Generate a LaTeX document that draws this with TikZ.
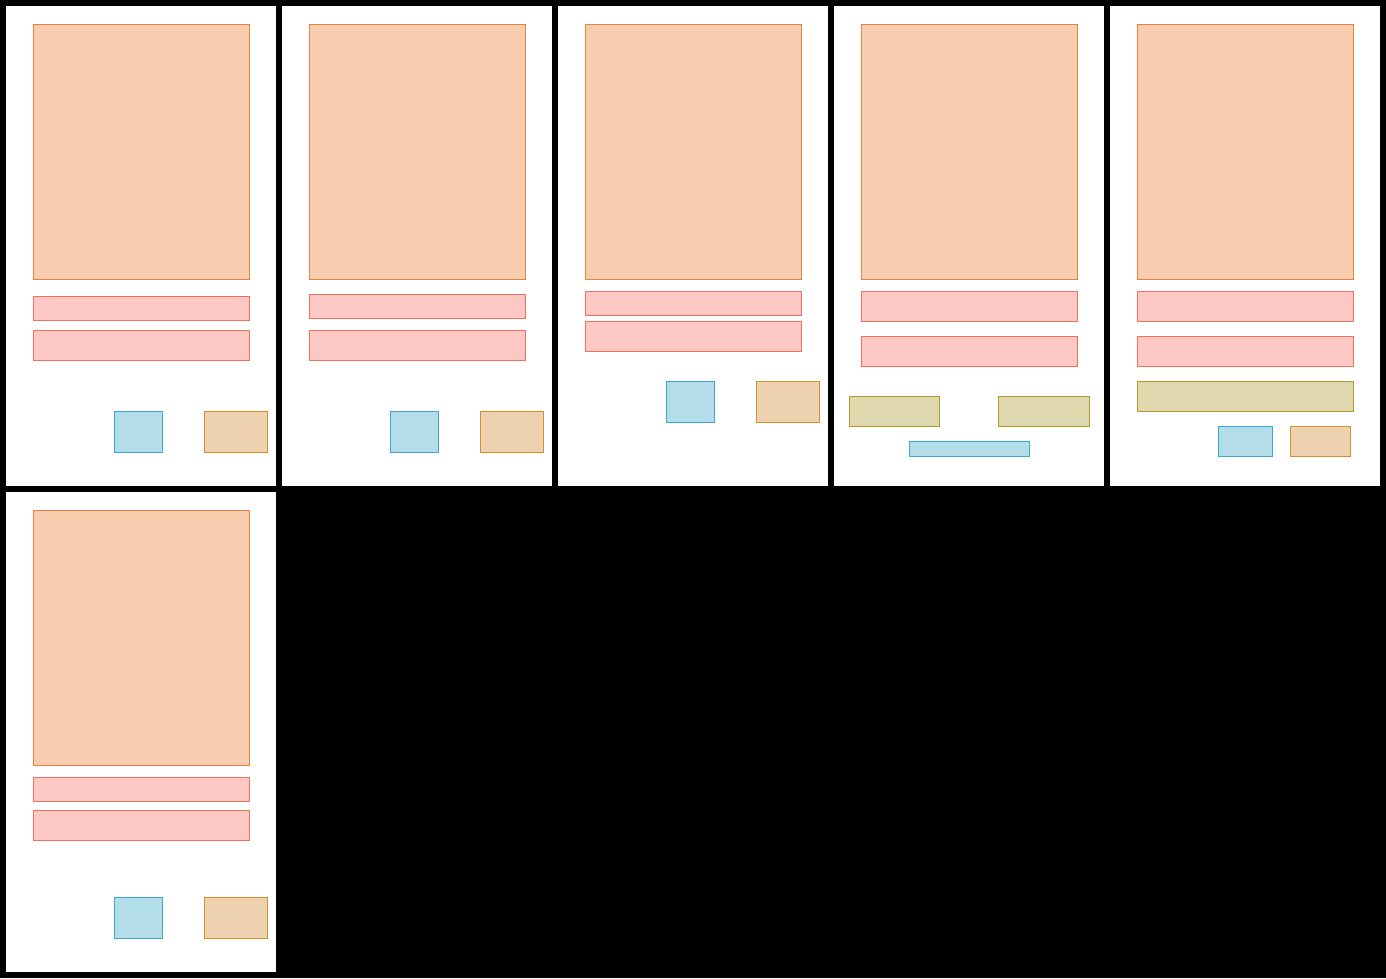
\documentclass[tikz,border=0pt]{standalone}
\usepackage{xcolor}
\definecolor{mainfill}{HTML}{F8CDAF}
\definecolor{maindraw}{HTML}{E8823A}
\definecolor{barfill}{HTML}{FDC8C3}
\definecolor{bardraw}{HTML}{F07060}
\definecolor{btnfill}{HTML}{B3DDE9}
\definecolor{btndraw}{HTML}{3AAAD0}
\definecolor{tanfill}{HTML}{EED2B0}
\definecolor{tandraw}{HTML}{D8902F}
\definecolor{olvfill}{HTML}{E0D9B0}
\definecolor{olvdraw}{HTML}{B09C2A}
\tikzset{
  panel/.style={fill=white},
  mainbox/.style={fill=mainfill, draw=maindraw, line width=0.8pt},
  bar/.style={fill=barfill, draw=bardraw, line width=0.8pt},
  btn/.style={fill=btnfill, draw=btndraw, line width=0.8pt},
  tanbox/.style={fill=tanfill, draw=tandraw, line width=0.8pt},
  olvbox/.style={fill=olvfill, draw=olvdraw, line width=0.8pt}
}
\begin{document}
\begin{tikzpicture}[x=1pt, y=-1pt]
    \fill[black] (0,0) rectangle (1386,978);
    \useasboundingbox (0,0) rectangle (1386,978);

    % panels
    \foreach \px in {6,282,558,834,1110}
      \fill[panel] (\px,6) rectangle ++(270,480);
    \fill[panel] (6,492) rectangle ++(270,480);

    % panel 1
    \draw[mainbox] (33.3,24.3) rectangle (249.7,279.3);
    \draw[bar] (33.3,296.3) rectangle (249.7,320.3);
    \draw[bar] (33.3,330.3) rectangle (249.7,360.3);
    \draw[btn] (114.3,411.3) rectangle (162.7,452.3);
    \draw[tanbox] (204.3,411.3) rectangle (267.7,452.3);

    % panel 2
    \draw[mainbox] (309.3,24.3) rectangle (525.7,279.3);
    \draw[bar] (309.3,294.3) rectangle (525.7,318.3);
    \draw[bar] (309.3,330.3) rectangle (525.7,360.3);
    \draw[btn] (390.3,411.3) rectangle (438.7,452.3);
    \draw[tanbox] (480.3,411.3) rectangle (543.7,452.3);

    % panel 3
    \draw[mainbox] (585.3,24.3) rectangle (801.7,279.3);
    \draw[bar] (585.3,291.3) rectangle (801.7,315.3);
    \draw[bar] (585.3,321.3) rectangle (801.7,351.3);
    \draw[btn] (666.3,381.3) rectangle (714.7,422.3);
    \draw[tanbox] (756.3,381.3) rectangle (819.7,422.3);

    % panel 4
    \draw[mainbox] (861.3,24.3) rectangle (1077.7,279.3);
    \draw[bar] (861.3,291.3) rectangle (1077.7,321.3);
    \draw[bar] (861.3,336.3) rectangle (1077.7,366.3);
    \draw[olvbox] (849.3,396.3) rectangle (939.7,426.3);
    \draw[olvbox] (998.3,396.3) rectangle (1089.7,426.3);
    \draw[btn] (909.3,441.3) rectangle (1029.7,456.3);

    % panel 5
    \draw[mainbox] (1137.3,24.3) rectangle (1353.7,279.3);
    \draw[bar] (1137.3,291.3) rectangle (1353.7,321.3);
    \draw[bar] (1137.3,336.3) rectangle (1353.7,366.3);
    \draw[olvbox] (1137.3,381.3) rectangle (1353.7,411.3);
    \draw[btn] (1218.3,426.3) rectangle (1272.7,456.3);
    \draw[tanbox] (1290.3,426.3) rectangle (1350.7,456.3);

    % panel 6
    \draw[mainbox] (33.3,510.3) rectangle (249.7,765.3);
    \draw[bar] (33.3,777.3) rectangle (249.7,801.3);
    \draw[bar] (33.3,810.3) rectangle (249.7,840.3);
    \draw[btn] (114.3,897.3) rectangle (162.7,938.3);
    \draw[tanbox] (204.3,897.3) rectangle (267.7,938.3);
\end{tikzpicture}
\end{document}
